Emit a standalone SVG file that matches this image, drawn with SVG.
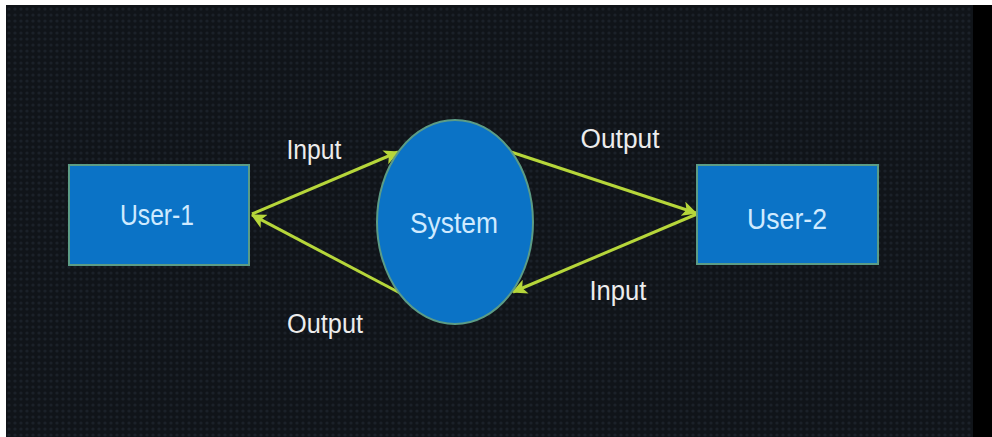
<svg xmlns="http://www.w3.org/2000/svg" width="992" height="437" viewBox="0 0 992 437">
<style>
.node{fill:#0b73c6;stroke:#5c9c86;stroke-width:2}
.ntext{font-family:"Liberation Sans",Arial,sans-serif;font-size:29px;fill:#cfeaff;text-anchor:middle}
.lbl{font-family:"Liberation Sans",Arial,sans-serif;font-size:27px;fill:#ececec;text-anchor:middle}
.conn{stroke:#b6d63a;stroke-width:3;fill:none}
</style>
<defs>
<marker id="ah" viewBox="0 0 12 12" refX="11" refY="6" markerWidth="5" markerHeight="5" orient="auto" markerUnits="strokeWidth">
<path d="M0,0 L12,6 L0,12 L3,6 Z" fill="#b6d63a"/>
</marker>
<pattern id="tex" width="6" height="6" patternUnits="userSpaceOnUse">
<rect width="6" height="6" fill="#101419"/>
<circle cx="3" cy="3" r="1.6" fill="#1b2129"/>
</pattern>
</defs>
<rect width="992" height="437" fill="#ffffff"/>
<rect x="6" y="5" width="967" height="432" fill="url(#tex)"/>
<rect x="973" y="5" width="19" height="432" fill="#000000"/>
<g id="connectors">
<line class="conn" x1="252" y1="214" x2="398" y2="152" marker-end="url(#ah)"/>
<line class="conn" x1="400" y1="293" x2="252" y2="215" marker-end="url(#ah)"/>
<line class="conn" x1="511" y1="152" x2="696" y2="213" marker-end="url(#ah)"/>
<line class="conn" x1="697" y1="214" x2="513" y2="292" marker-end="url(#ah)"/>
<text class="lbl" x="314" y="159" textLength="55" lengthAdjust="spacingAndGlyphs">Input</text>
<text class="lbl" x="325" y="333" textLength="76" lengthAdjust="spacingAndGlyphs">Output</text>
<text class="lbl" x="620" y="148" textLength="79" lengthAdjust="spacingAndGlyphs">Output</text>
<text class="lbl" x="618" y="300" textLength="57" lengthAdjust="spacingAndGlyphs">Input</text>
</g>
<g id="user1">
<rect class="node" x="69" y="165" width="180" height="100"/>
<text class="ntext" x="157" y="225" textLength="74" lengthAdjust="spacingAndGlyphs">User-1</text>
</g>
<g id="system">
<ellipse class="node" cx="455" cy="222" rx="78" ry="102"/>
<text class="ntext" x="454" y="233" textLength="88" lengthAdjust="spacingAndGlyphs">System</text>
</g>
<g id="user2">
<rect class="node" x="697" y="165" width="181" height="99"/>
<text class="ntext" x="787" y="229" textLength="80" lengthAdjust="spacingAndGlyphs">User-2</text>
</g>
</svg>
